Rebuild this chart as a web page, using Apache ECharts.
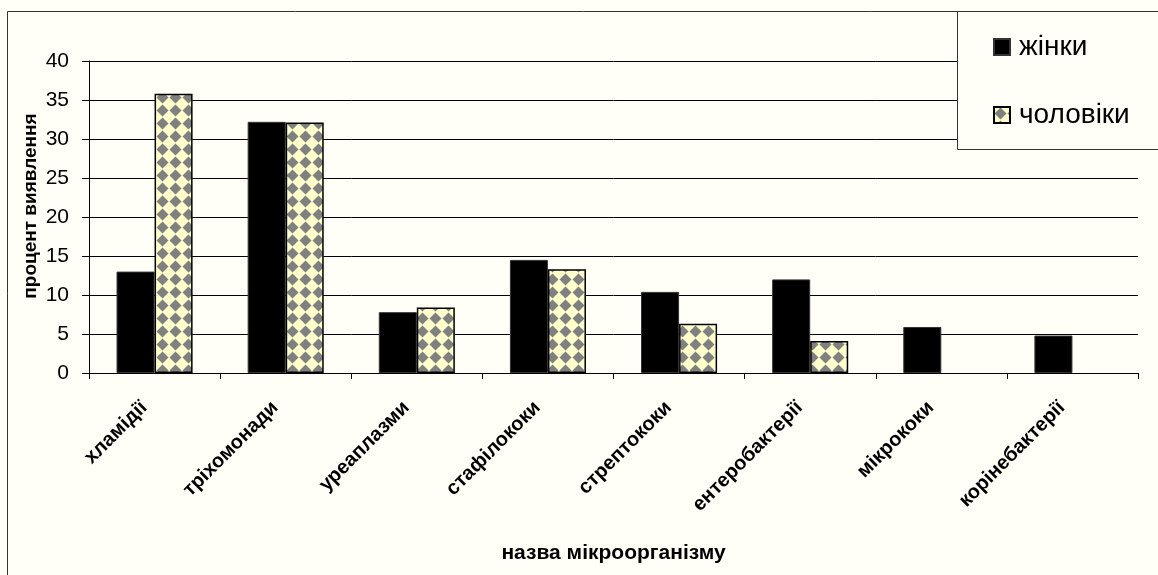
<!DOCTYPE html>
<html>
<head>
<meta charset="utf-8">
<script src="https://cdn.jsdelivr.net/npm/echarts@6/dist/echarts.min.js"></script>
<style>
html,body{margin:0;padding:0;background:#fffff8;}
#chart{width:1158px;height:575px;}
</style>
</head>
<body>
<div id="chart"></div>
<script>
var categories = ['хламідії', 'тріхомонади', 'уреаплазми', 'стафілококи', 'стрептококи', 'ентеробактерії', 'мікрококи', 'корінебактерії'];
var women = [13.0, 32.2, 7.8, 14.5, 10.4, 12.0, 5.9, 4.8];
var men = [35.8, 32.1, 8.4, 13.3, 6.3, 4.1, null, null];
var seriesNames = ['жінки', 'чоловіки'];
var yTicks = [0, 5, 10, 15, 20, 25, 30, 35, 40];

// checker-diamond fill pattern (style only)
var tile = document.createElement('canvas');
tile.width = 13; tile.height = 13;
var c = tile.getContext('2d');
c.fillStyle = '#ffffcc';
c.fillRect(0, 0, 13, 13);
c.fillStyle = '#808080';
c.beginPath();
c.moveTo(6.5, 0.5); c.lineTo(12.5, 6.5); c.lineTo(6.5, 12.5); c.lineTo(0.5, 6.5);
c.closePath();
c.fill();

var FONT = '"Liberation Sans", Arial, sans-serif';
var chart = echarts.init(document.getElementById('chart'));
chart.setOption({
  backgroundColor: '#fffff8',
  animation: false,
  grid: { left: 89, right: 20, top: 61, bottom: 202, containLabel: false },
  graphic: [
    { type: 'rect', z: 0, silent: true,
      shape: { x: 7.5, y: 11.5, width: 1200, height: 700 },
      style: { fill: 'none', stroke: '#333', lineWidth: 1 } },
    { type: 'rect', z: 50, silent: true,
      shape: { x: 957.5, y: 11.5, width: 300, height: 138 },
      style: { fill: '#fffff8', stroke: '#333', lineWidth: 1 } },
    { type: 'text', z: 50, silent: true, x: 31, y: 206, rotation: Math.PI / 2,
      style: { text: 'процент виявлення', fill: '#000', font: 'bold 19px ' + FONT,
               align: 'center', verticalAlign: 'middle' } }
  ],
  legend: {
    z: 60,
    orient: 'vertical',
    left: 993, top: 33,
    padding: 0,
    icon: 'rect',
    itemWidth: 16, itemHeight: 16, itemGap: 40,
    textStyle: { fontFamily: FONT, fontSize: 28, color: '#000', lineHeight: 16, padding: [0, 0, 0, 4] },
    data: seriesNames
  },
  xAxis: {
    type: 'category',
    data: categories,
    name: 'назва мікроорганізму',
    nameLocation: 'middle',
    nameGap: 170,
    nameTextStyle: { fontFamily: FONT, fontSize: 21, fontWeight: 'bold', color: '#000' },
    axisLine: { lineStyle: { color: '#000', width: 1 } },
    axisTick: { show: true, length: 6, inside: false, alignWithLabel: false, lineStyle: { color: '#000' } },
    axisLabel: { rotate: 45, margin: 21, padding: [0, 15, 0, 0], interval: 0,
                 fontFamily: FONT, fontSize: 20, fontWeight: 'bold', color: '#000' },
    splitLine: { show: false }
  },
  yAxis: {
    type: 'value',
    min: 0, max: 40, interval: 5,
    axisLine: { show: true, lineStyle: { color: '#000', width: 1 } },
    axisTick: { show: true, length: 7, inside: false, lineStyle: { color: '#000' } },
    axisLabel: { margin: 20, fontFamily: FONT, fontSize: 21, color: '#000',
                 formatter: function (v) { return yTicks.indexOf(v) >= 0 ? String(v) : ''; } },
    splitLine: { show: true, lineStyle: { color: '#000', width: 1 } }
  },
  series: [
    { name: seriesNames[0], type: 'bar', data: women, barGap: '0%', barCategoryGap: '42%',
      itemStyle: { color: '#000', borderColor: '#333', borderWidth: 1 } },
    { name: seriesNames[1], type: 'bar', data: men, barGap: '0%', barCategoryGap: '42%',
      itemStyle: { color: { image: tile, repeat: 'repeat' }, borderColor: '#000', borderWidth: 1.5 } }
  ]
});
</script>
</body>
</html>
